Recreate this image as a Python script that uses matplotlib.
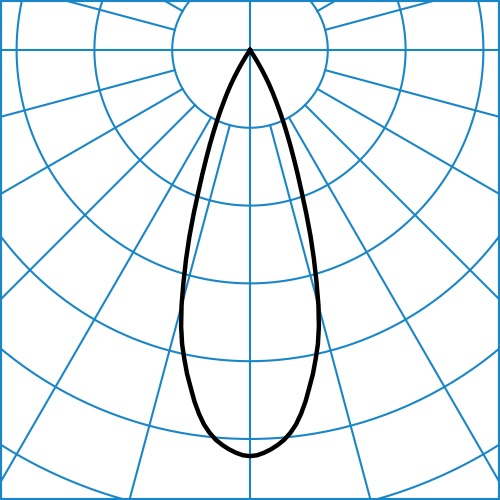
import numpy as np
import matplotlib
matplotlib.use("Agg")
import matplotlib.pyplot as plt

# intensity curve (cd, grid rings every 100)
angles_deg = list(range(0, 35))
intensity = [522, 521, 518, 514, 509, 503, 495, 485, 472, 457,
             440, 424, 406, 388, 366, 340, 310, 281, 252, 222,
             194, 171, 150, 132, 115, 100, 86, 73, 62, 51,
             40, 29, 18, 9, 0]
ring_values = [100, 200, 300, 400, 500, 600, 700]
spoke_angles = list(range(0, 360, 15))

grid_col = "#1a86c8"
scale = 0.778  # px per cd

fig = plt.figure(figsize=(5, 5), dpi=100)
ax = fig.add_axes([0, 0, 1, 1])

t = np.linspace(0, 2 * np.pi, 400)
for rv in ring_values:
    ax.plot(rv * np.cos(t), rv * np.sin(t), color=grid_col, lw=1.5, zorder=1)

r_in = ring_values[0]
for a in spoke_angles:
    th = np.radians(a)
    r0 = 0 if a % 90 == 0 else r_in
    ax.plot([r0 * np.cos(th), 1000 * np.cos(th)], [r0 * np.sin(th), 1000 * np.sin(th)],
            color=grid_col, lw=1.5, zorder=1)

th = np.radians(angles_deg)
r = np.array(intensity)
xs = np.concatenate([-(r * np.sin(th))[::-1], (r * np.sin(th))[1:]])
ys = np.concatenate([-(r * np.cos(th))[::-1], -(r * np.cos(th))[1:]])
ax.plot(xs, ys, color="black", lw=3.2, zorder=3, solid_joinstyle="round")

ax.set_xlim(-250 / scale, 250 / scale)
ax.set_ylim(-450 / scale, 50 / scale)
ax.set_aspect("equal")
ax.set_xticks([])
ax.set_yticks([])
for s in ax.spines.values():
    s.set_color(grid_col)
    s.set_linewidth(3)

fig.savefig("out.png", dpi=100)
